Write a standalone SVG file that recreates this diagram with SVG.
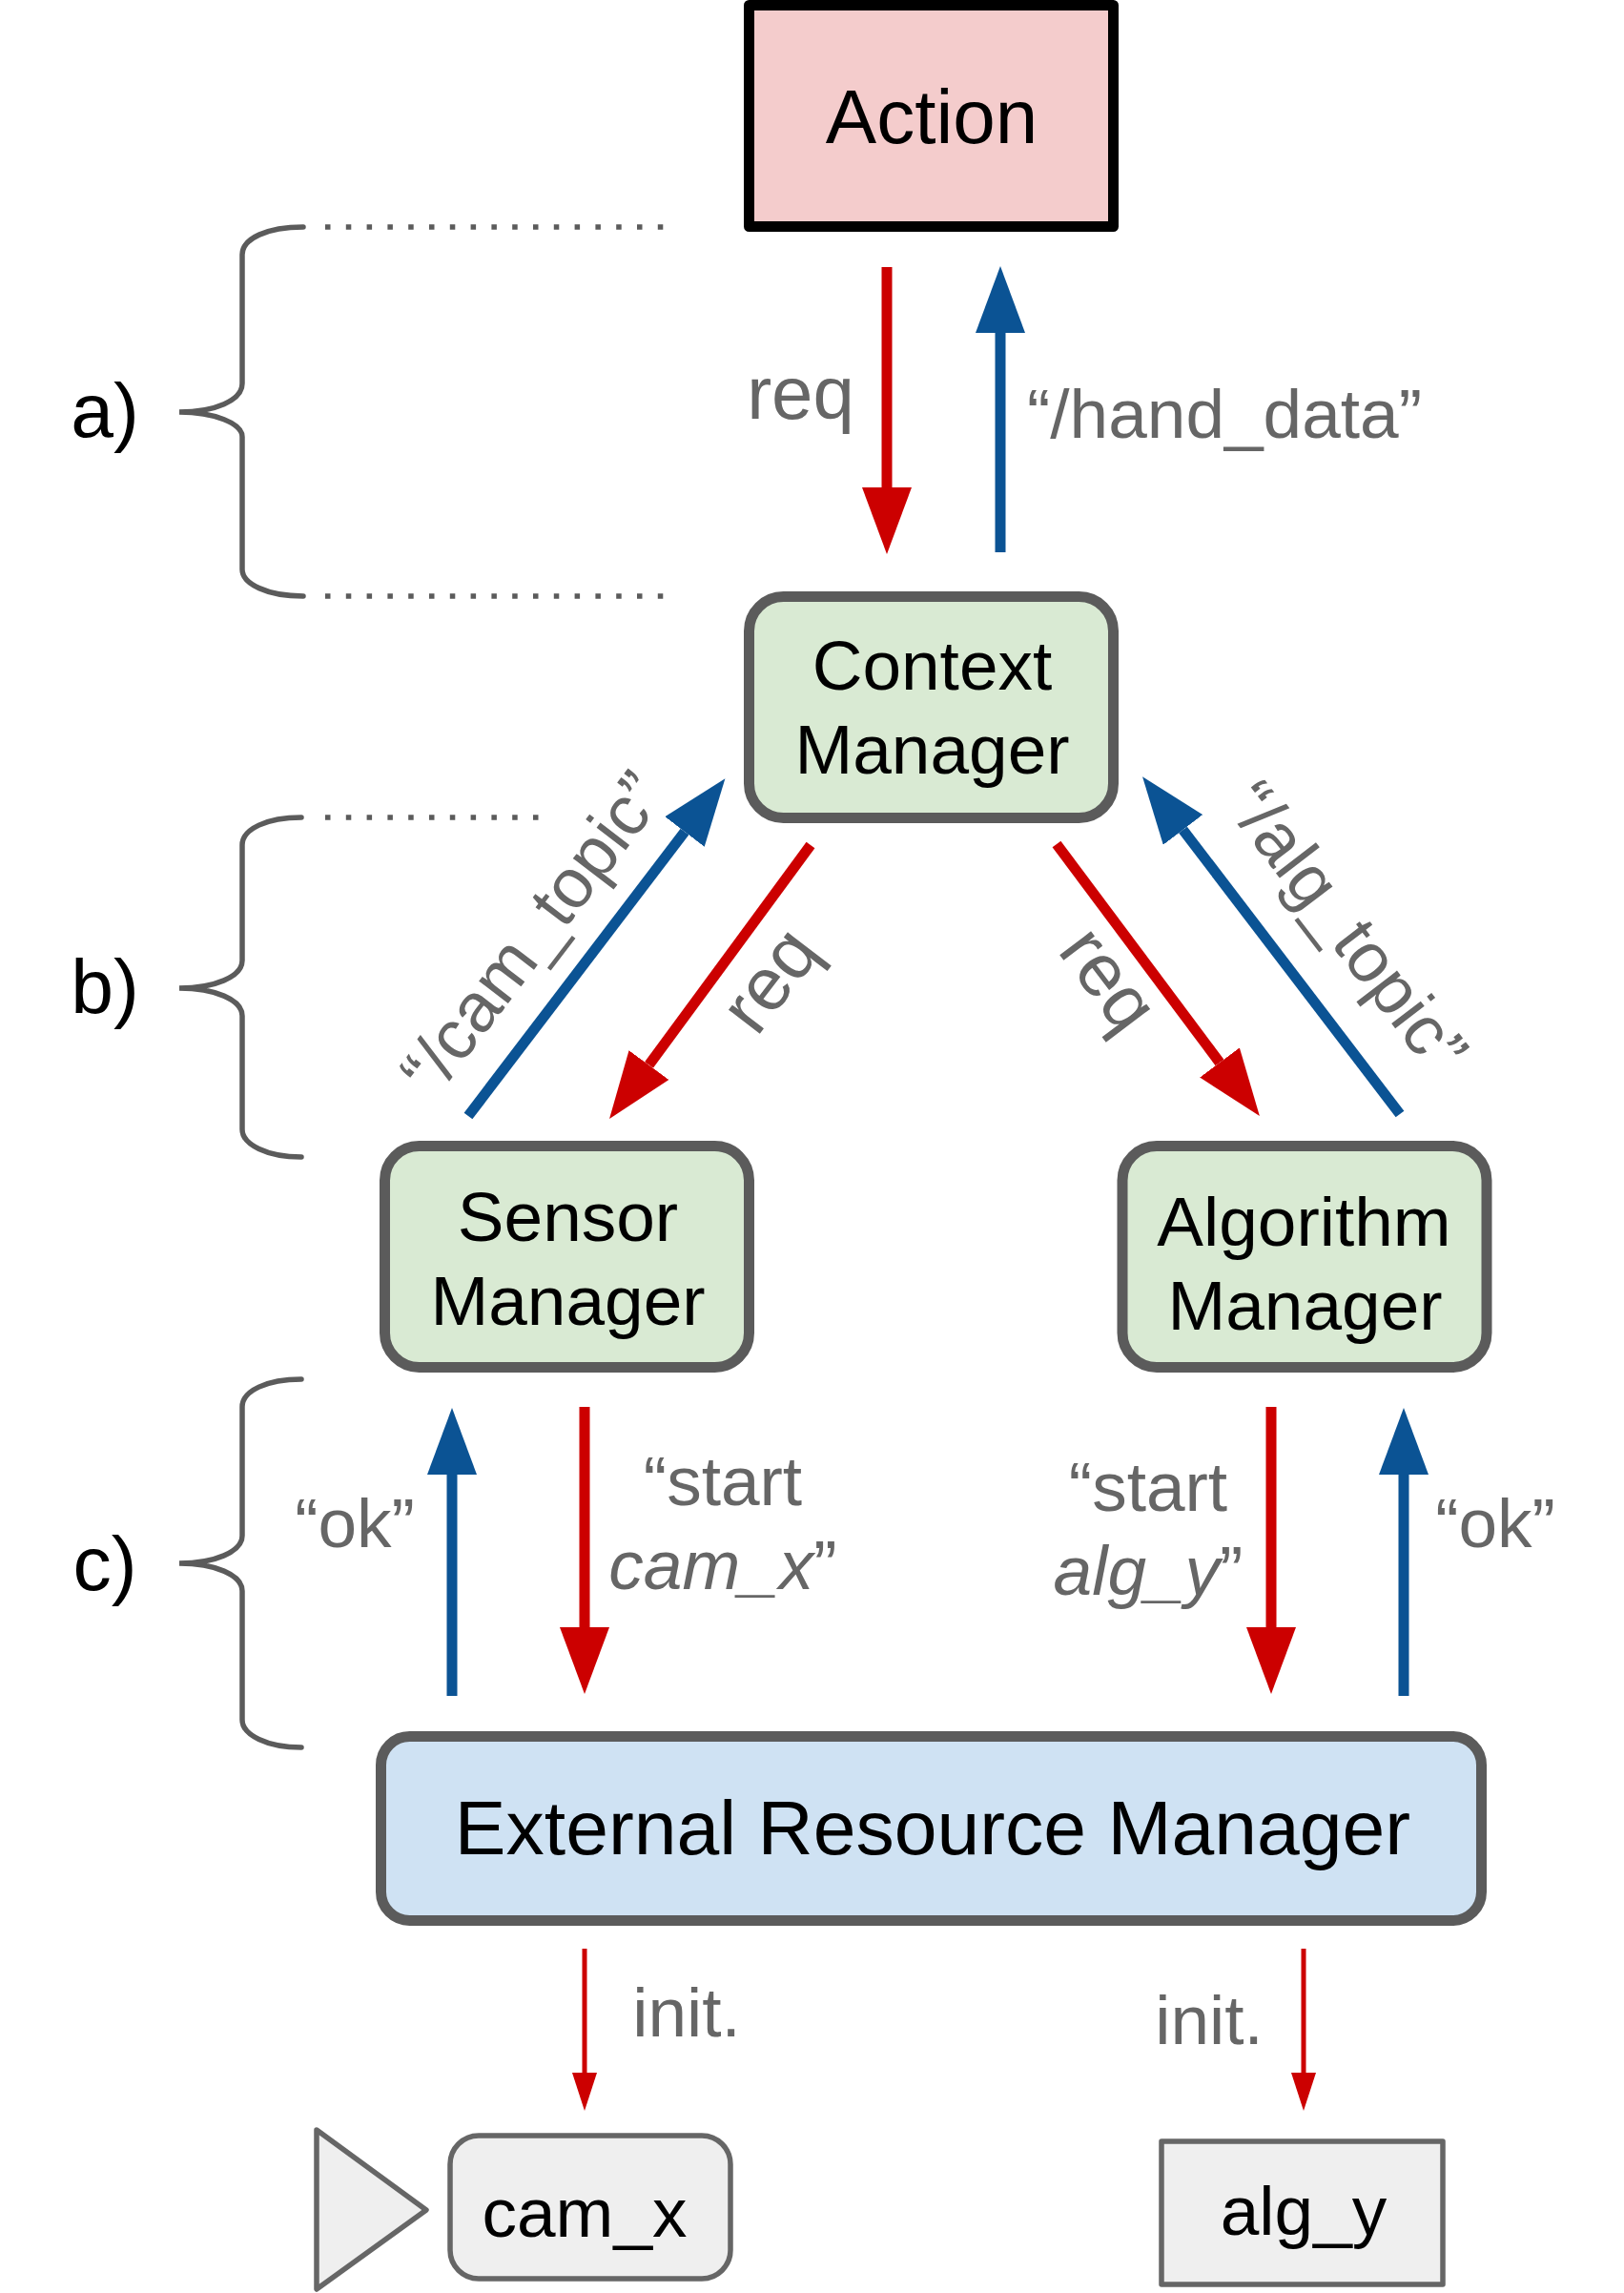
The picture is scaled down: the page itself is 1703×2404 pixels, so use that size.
<svg xmlns="http://www.w3.org/2000/svg" width="1703" height="2404" viewBox="0 0 1703 2404">
<style>
text{font-family:"Liberation Sans",Arial,sans-serif;text-anchor:middle}
.n{font-size:73px;fill:#000}
.b{font-size:80.500px;fill:#000}
.l{font-size:73px;fill:#666}
.q{font-size:78px;fill:#666}
.box{stroke:#5b5b5b;stroke-width:11}
.small{fill:#efefef;stroke:#666;stroke-width:5.500;stroke-linejoin:round}
.brace{fill:none;stroke:#5b5b5b;stroke-width:5.500;stroke-linecap:round}
.dots{fill:none;stroke:#5b5b5b;stroke-width:5.500;stroke-dasharray:5.500 16.300}
.r{stroke:#c00;stroke-width:11;fill:none;marker-end:url(#hr)}
.u{stroke:#0b5394;stroke-width:11;fill:none;marker-end:url(#hu)}
.t{stroke:#c00;stroke-width:5;fill:none;marker-end:url(#ht)}
</style>
<defs>
<marker id="hr" markerUnits="userSpaceOnUse" markerWidth="70" markerHeight="52" refX="0" refY="26" orient="auto"><path d="M0,0L70,26L0,52Z" fill="#c00"/></marker>
<marker id="hu" markerUnits="userSpaceOnUse" markerWidth="70" markerHeight="52" refX="0" refY="26" orient="auto"><path d="M0,0L70,26L0,52Z" fill="#0b5394"/></marker>
<marker id="ht" markerUnits="userSpaceOnUse" markerWidth="40" markerHeight="26" refX="0" refY="13" orient="auto"><path d="M0,0L40,13L0,26Z" fill="#c00"/></marker>
</defs>
<rect width="1703" height="2404" fill="#fff"/>
<g id="braces">
<path class="brace" d="M318,238C280,238 254,250 254,267V402C254,420 225,432 188,432C225,432 254,444 254,458V597C254,612 280,625 318,625"/>
<path class="dots" d="M341,238H702M341,625H702"/>
<path class="brace" d="M316,857C280,857 254,869 254,886V1007C254,1024 225,1036 188,1036C225,1036 254,1048 254,1065V1184C254,1200 280,1213 316,1213"/>
<path class="dots" d="M341,857H571"/>
<path class="brace" d="M316,1446C280,1446 254,1458 254,1475V1610C254,1627 225,1639 188,1639C225,1639 254,1651 254,1668V1803C254,1819 280,1832 316,1832"/>
<text class="b" x="110" y="458">a)</text>
<text class="b" x="110" y="1062">b)</text>
<text class="b" x="110" y="1667">c)</text>
</g>
<g id="connectors">
<path class="r" d="M930,280V511"/>
<path class="u" d="M1049,579V349"/>
<path class="u" d="M491,1170L718,872"/>
<path class="r" d="M850,886L680.500,1116.600"/>
<path class="r" d="M1108,885L1279,1114"/>
<path class="u" d="M1468,1168L1240.500,870"/>
<path class="u" d="M474,1778V1546"/>
<path class="r" d="M613,1475V1706"/>
<path class="r" d="M1333,1475V1706"/>
<path class="u" d="M1472,1778V1546"/>
<path class="t" d="M613,2043V2173"/>
<path class="t" d="M1367,2043V2173"/>
<text class="q" x="839.500" y="439">req</text>
<text class="l" x="1284" y="459">“/hand_data”</text>
<text class="l" transform="translate(558,978) rotate(-52.500)" y="25">“/cam_topic”</text>
<text class="q" transform="translate(808,1028) rotate(-52.500)" y="25">req</text>
<text class="q" transform="translate(1162,1027) rotate(53)" y="25">req</text>
<text class="l" transform="translate(1413,972) rotate(52.500)" y="25">“/alg_topic”</text>
<text class="l" x="372" y="1622">“ok”</text>
<text class="l" x="758" y="1578">“start</text>
<text class="l" x="758" y="1666"><tspan font-style="italic">cam_x</tspan>”</text>
<text class="l" x="1204" y="1584">“start</text>
<text class="l" x="1204" y="1672"><tspan font-style="italic">alg_y</tspan>”</text>
<text class="l" x="1568" y="1622">“ok”</text>
<text class="l" x="720" y="2135">init.</text>
<text class="l" x="1268" y="2143">init.</text>
</g>
<g id="action"><rect x="785.500" y="5.500" width="382" height="232" fill="#f4cccc" stroke="#000" stroke-width="11" stroke-linejoin="round"/><text x="977" y="150" style="font-size:80px">Action</text></g>
<g id="context-manager"><rect class="box" x="785.500" y="625.500" width="382" height="232" rx="36" fill="#d9ead3"/><text class="n" x="977.500" y="723">Context</text><text class="n" x="977.500" y="811">Manager</text></g>
<g id="sensor-manager"><rect class="box" x="403.500" y="1201.500" width="382" height="232" rx="36" fill="#d9ead3"/><text class="n" x="595.500" y="1301">Sensor</text><text class="n" x="595.500" y="1389">Manager</text></g>
<g id="algorithm-manager"><rect class="box" x="1177" y="1201.500" width="382" height="232" rx="36" fill="#d9ead3"/><text class="n" x="1367.500" y="1306">Algorithm</text><text class="n" x="1368.500" y="1394">Manager</text></g>
<g id="external-resource-manager"><rect class="box" x="399.500" y="1820.500" width="1154" height="193" rx="30" fill="#cfe2f3"/><text class="b" x="978" y="1944">External Resource Manager</text></g>
<g id="cam-x"><path class="small" d="M332,2233L447,2317L332,2400Z"/><rect class="small" x="472" y="2239" width="294" height="150" rx="30"/><text class="n" x="613" y="2345">cam_x</text></g>
<g id="alg-y"><rect class="small" x="1218" y="2245" width="295" height="150"/><text class="n" x="1367" y="2343">alg_y</text></g>
</svg>
